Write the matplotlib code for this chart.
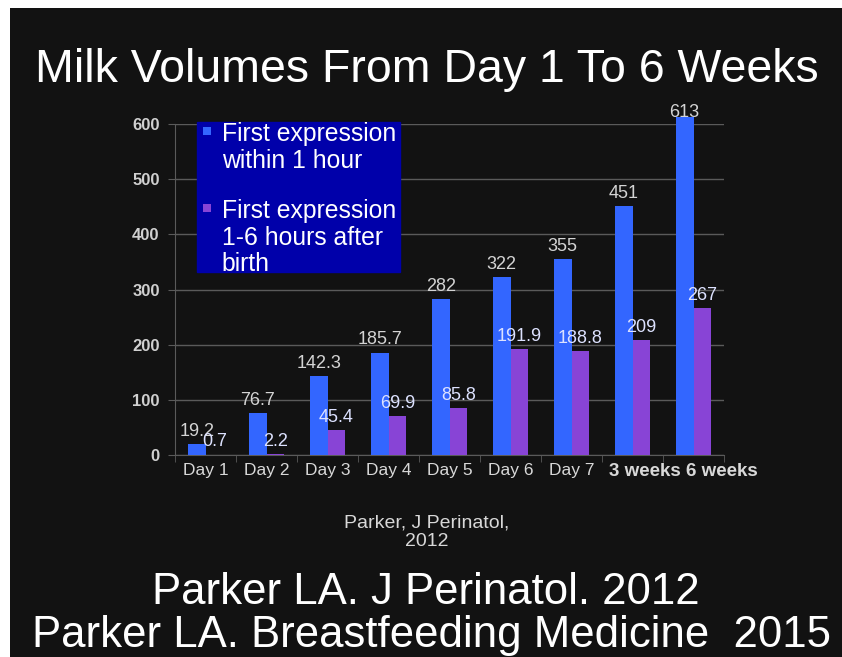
import numpy as np
import matplotlib
matplotlib.use('Agg')
import matplotlib.pyplot as plt
from matplotlib.patches import Rectangle

categories = ['Day 1', 'Day 2', 'Day 3', 'Day 4', 'Day 5', 'Day 6', 'Day 7',
              '3 weeks', '6 weeks']
within_1h = [19.2, 76.7, 142.3, 185.7, 282, 322, 355, 451, 613]
after_1_6h = [0.7, 2.2, 45.4, 69.9, 85.8, 191.9, 188.8, 209, 267]
within_labels = ['19.2', '76.7', '142.3', '185.7', '282', '322', '355', '451', '613']
after_labels = ['0.7', '2.2', '45.4', '69.9', '85.8', '191.9', '188.8', '209', '267']
yticks = [0, 100, 200, 300, 400, 500, 600]

plt.rcParams['font.family'] = ['Liberation Sans', 'DejaVu Sans']

bg = '#121212'
blue = '#3366ff'
purple = '#8844d6'
grid = '#5a5a5a'
ytop = 600

fig = plt.figure(figsize=(8.42, 6.57), dpi=100, facecolor='white')
# dark slide area, with the thin white strip left and top
fig.patches.append(Rectangle((10 / 842, 0), 1, (657 - 8) / 657,
                             transform=fig.transFigure, facecolor=bg,
                             edgecolor='none', zorder=-1))

ax = fig.add_axes([175 / 842, 202 / 657, 549 / 842, 331 / 657])
ax.set_facecolor(bg)

x = np.arange(len(categories))
w = 0.29
b1 = ax.bar(x - w / 2, within_1h, w, color=blue, zorder=3, clip_on=False)
b2 = ax.bar(x + w / 2, after_1_6h, w, color=purple, zorder=3, clip_on=False)

for xi, v, s in zip(x, within_1h, within_labels):
    dy = -3 if v > ytop else 3   # label over the top bar sits on it
    ax.annotate(s, (xi - w / 2, v), xytext=(0, dy), textcoords='offset points',
                ha='center', va='bottom', color='#d4d4d4', fontsize=13,
                zorder=5, annotation_clip=False)
for xi, v, s in zip(x, after_1_6h, after_labels):
    ax.annotate(s, (xi + w / 2, v), xytext=(0, 3), textcoords='offset points',
                ha='center', va='bottom', color='#dde2ff', fontsize=13,
                zorder=5, annotation_clip=False)

ax.set_xlim(-0.5, len(categories) - 0.5)
ax.set_ylim(0, ytop)
ax.set_yticks(yticks)
ax.set_yticklabels([str(t) for t in yticks], fontsize=12, color='#d0d0d0',
                   fontweight='bold')
# the two bold labels sit a bit to the right on the slide
label_pos = x.astype(float)
label_pos[7] += 0.2
label_pos[8] += 0.46
ax.set_xticks(label_pos)
ax.set_xticklabels(categories, fontsize=12.5, color='#d8d8d8')
for lbl in ax.get_xticklabels()[7:]:
    lbl.set_fontweight('bold')
    lbl.set_fontsize(13.5)
ax.set_xticks(np.arange(len(categories) + 1) - 0.5, minor=True)
ax.tick_params(axis='x', which='major', length=0, pad=6)
ax.tick_params(axis='x', which='minor', length=5, color=grid, direction='out')
ax.tick_params(axis='y', length=5, color=grid, pad=6)
ax.grid(axis='y', color=grid, linewidth=1, zorder=1)
for side in ['top', 'right']:
    ax.spines[side].set_visible(False)
ax.spines['left'].set_color(grid)
ax.spines['bottom'].set_color(grid)

# legend box as drawn on the slide
ax.add_patch(Rectangle((0.040, 0.553), 0.370, 0.453, transform=ax.transAxes,
                       facecolor='#0000aa', edgecolor='#0000aa', zorder=6,
                       clip_on=False))
ax.add_patch(Rectangle((0.051, 0.967), 0.015, 0.024, transform=ax.transAxes,
                       facecolor=blue, edgecolor='none', zorder=7, clip_on=False))
ax.add_patch(Rectangle((0.051, 0.734), 0.015, 0.024, transform=ax.transAxes,
                       facecolor=purple, edgecolor='none', zorder=7, clip_on=False))
ax.text(0.085, 1.005, 'First expression\nwithin 1 hour', transform=ax.transAxes,
        ha='left', va='top', fontsize=17.8, color='white', linespacing=1.12,
        zorder=8)
ax.text(0.085, 0.772, 'First expression\n1-6 hours after\nbirth',
        transform=ax.transAxes, ha='left', va='top', fontsize=17.8,
        color='white', linespacing=1.12, zorder=8)

fig.text(0.507, 1 - 70 / 657, 'Milk Volumes From Day 1 To 6 Weeks',
         ha='center', va='center', fontsize=33.5, color='white')
fig.text(0.507, 1 - 532 / 657, 'Parker, J Perinatol,\n2012', ha='center',
         va='center', fontsize=14, color='#d8d8d8', linespacing=1.15)
fig.text(0.506, 1 - 593 / 657, 'Parker LA. J Perinatol. 2012', ha='center',
         va='center', fontsize=31.5, color='white')
fig.text(0.513, 1 - 635 / 657, 'Parker LA. Breastfeeding Medicine  2015',
         ha='center', va='center', fontsize=31.5, color='white')

fig.savefig('out.png', dpi=100, facecolor=fig.get_facecolor())
